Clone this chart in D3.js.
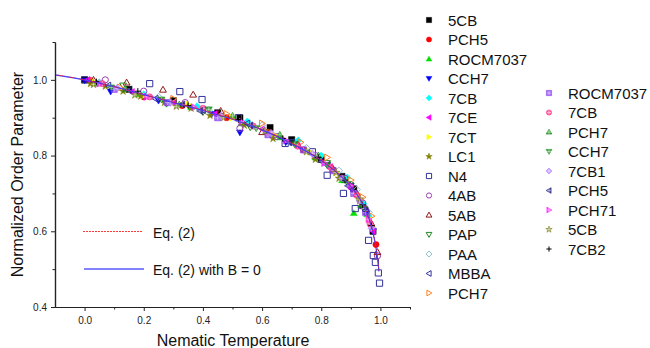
<!DOCTYPE html>
<html>
<head>
<meta charset="utf-8">
<script src="https://cdn.jsdelivr.net/npm/d3@7/dist/d3.min.js"></script>
<style>
  body { margin: 0; background: #fff; }
  text { font-family: "Liberation Sans", Arial, sans-serif; }
</style>
</head>
<body>
<svg id="chart" width="650" height="348"></svg>
<script>
// ---- data ----
const xMajorTicks = [0.0, 0.2, 0.4, 0.6, 0.8, 1.0];
const xMinorTicks = [0.1, 0.3, 0.5, 0.7, 0.9, 1.1];
const yMajorTicks = [0.4, 0.6, 0.8, 1.0];
const yMinorTicks = [0.5, 0.7, 0.9, 1.1];

// fit curves
const curveT   = [-0.1, 0.0, 0.1, 0.2, 0.3, 0.4, 0.5, 0.6, 0.7, 0.8, 0.85, 0.9, 0.93, 0.95, 0.97, 0.98, 0.99, 0.995];
const curveEq2 = [1.014, 1.0, 0.982, 0.961, 0.941, 0.920, 0.897, 0.869, 0.833, 0.788, 0.758, 0.719, 0.687, 0.657, 0.613, 0.580, 0.532, 0.497];
const curveB0  = [1.013, 1.0, 0.982, 0.961, 0.940, 0.919, 0.896, 0.868, 0.832, 0.787, 0.757, 0.718, 0.686, 0.656, 0.612, 0.578, 0.530, 0.494];

// column 1 series
const d5CB     = [[0.0,1.0],[0.15,0.975],[0.30,0.945],[0.45,0.913],[0.525,0.9],[0.627,0.874],[0.70,0.842],[0.80,0.79],[0.87,0.745],[0.91,0.712],[0.94,0.668],[0.975,0.60]];
const dPCH5    = [[0.02,0.998],[0.2,0.955],[0.33,0.932],[0.48,0.9],[0.62,0.862],[0.74,0.815],[0.84,0.762],[0.9,0.718],[0.95,0.655],[0.985,0.565]];
const dROCM    = [[0.04,0.99],[0.18,0.962],[0.36,0.928],[0.53,0.885],[0.66,0.848],[0.78,0.795],[0.87,0.735],[0.91,0.648],[0.955,0.645]];
const dCCH7    = [[0.0,0.998],[0.088,0.969],[0.25,0.945],[0.43,0.91],[0.525,0.861],[0.68,0.835],[0.82,0.775],[0.9,0.715],[0.95,0.65],[0.975,0.6]];
const d7CB     = [[0.05,0.992],[0.2,0.962],[0.38,0.93],[0.55,0.89],[0.722,0.84],[0.8,0.8],[0.888,0.742],[0.942,0.673],[0.96,0.64]];
const d7CE     = [[0.01,1.0],[0.16,0.968],[0.3,0.94],[0.44,0.91],[0.6,0.87],[0.72,0.825],[0.83,0.77],[0.9,0.715],[0.945,0.66],[0.975,0.6]];
const d7CT     = [[0.03,0.995],[0.2,0.958],[0.35,0.935],[0.5,0.9],[0.64,0.855],[0.76,0.81],[0.85,0.755],[0.92,0.7],[0.96,0.635]];
const dLC1     = [[0.02,0.99],[0.07,0.983],[0.13,0.97],[0.19,0.957],[0.27,0.94],[0.36,0.925],[0.424,0.906],[0.54,0.88],[0.637,0.845],[0.78,0.79],[0.86,0.74],[0.93,0.68]];
const dN4      = [[0.0,1.0],[0.22,0.99],[0.322,0.969],[0.397,0.948],[0.52,0.9],[0.678,0.832],[0.77,0.81],[0.82,0.748],[0.875,0.70],[0.915,0.66],[0.96,0.576],[0.976,0.536],[0.983,0.518],[0.993,0.49],[0.997,0.463]];
const d4AB     = [[0.07,1.0],[0.2,0.97],[0.34,0.94],[0.525,0.872],[0.65,0.85],[0.78,0.8],[0.88,0.74],[0.94,0.675],[0.99,0.535]];
const d5AB     = [[0.03,1.0],[0.142,0.993],[0.265,0.974],[0.367,0.961],[0.46,0.918],[0.6,0.862],[0.72,0.83],[0.84,0.765],[0.92,0.7],[0.97,0.62],[0.99,0.545]];
const dPAP     = [[0.13,0.985],[0.277,0.937],[0.4,0.915],[0.56,0.875],[0.7,0.835],[0.82,0.78],[0.9,0.72]];
const dPAA     = [[0.05,0.993],[0.25,0.955],[0.42,0.92],[0.6,0.88],[0.75,0.82],[0.86,0.76],[0.92,0.71],[0.96,0.65]];
const dMBBA    = [[0.08,0.985],[0.24,0.95],[0.4,0.92],[0.55,0.885],[0.7,0.835],[0.82,0.775],[0.9,0.72],[0.955,0.645]];
const dPCH7    = [[0.12,0.98],[0.3,0.95],[0.48,0.91],[0.6,0.885],[0.73,0.835],[0.82,0.795],[0.9,0.735],[0.94,0.69],[0.97,0.64]];
// column 2 series
const dROCMb   = [[0.1,0.975],[0.28,0.94],[0.45,0.9],[0.62,0.855],[0.74,0.815],[0.84,0.76],[0.91,0.7],[0.95,0.65]];
const d7CBb    = [[0.06,0.99],[0.22,0.955],[0.4,0.925],[0.57,0.878],[0.72,0.825],[0.83,0.77],[0.92,0.695],[0.965,0.62]];
const dPCH7b   = [[0.14,0.975],[0.32,0.935],[0.5,0.905],[0.66,0.855],[0.79,0.8],[0.88,0.735],[0.935,0.67]];
const dCCH7b   = [[0.09,0.98],[0.26,0.948],[0.42,0.922],[0.58,0.872],[0.71,0.83],[0.82,0.775],[0.89,0.725],[0.945,0.66]];
const d7CB1    = [[0.11,0.978],[0.29,0.94],[0.46,0.905],[0.63,0.86],[0.77,0.805],[0.87,0.74],[0.93,0.68],[0.97,0.608]];
const dPCH5b   = [[0.15,0.972],[0.33,0.935],[0.39,0.918],[0.56,0.88],[0.69,0.835],[0.8,0.785],[0.89,0.72],[0.95,0.655]];
const dPCH71   = [[0.05,0.99],[0.21,0.955],[0.37,0.928],[0.53,0.89],[0.68,0.84],[0.81,0.78],[0.9,0.72],[0.96,0.632]];
const d5CBb    = [[0.03,0.988],[0.17,0.96],[0.31,0.93],[0.47,0.9],[0.61,0.865],[0.75,0.81],[0.85,0.755],[0.93,0.685]];
const d7CB2    = [[0.04,0.995],[0.18,0.97],[0.35,0.932],[0.52,0.895],[0.67,0.845],[0.79,0.795],[0.88,0.735],[0.94,0.67],[0.97,0.615]];

const legend1Names = ['5CB','PCH5','ROCM7037','CCH7','7CB','7CE','7CT','LC1','N4','4AB','5AB','PAP','PAA','MBBA','PCH7'];
const legend2Names = ['ROCM7037','7CB','PCH7','CCH7','7CB1','PCH5','PCH71','5CB','7CB2'];

// ---- styles (shape, colour, fill mode) ----
const col1 = [
  {data: d5CB,  shape: 'square', color: '#000000', mode: 'solid'},
  {data: dPCH5, shape: 'circle', color: '#ff0000', mode: 'solid'},
  {data: dROCM, shape: 'up',     color: '#00e000', mode: 'solid'},
  {data: dCCH7, shape: 'down',   color: '#0000ff', mode: 'solid'},
  {data: d7CB,  shape: 'diamond',color: '#00ffff', mode: 'solid'},
  {data: d7CE,  shape: 'left',   color: '#ff00ff', mode: 'solid'},
  {data: d7CT,  shape: 'right',  color: '#ffff00', mode: 'solid'},
  {data: dLC1,  shape: 'star',   color: '#808000', mode: 'solid'},
  {data: dN4,   shape: 'square', color: '#33339a', mode: 'open'},
  {data: d4AB,  shape: 'circle', color: '#9a40b0', mode: 'open'},
  {data: d5AB,  shape: 'up',     color: '#901818', mode: 'open'},
  {data: dPAP,  shape: 'down',   color: '#208a20', mode: 'open'},
  {data: dPAA,  shape: 'diamond',color: '#90c0d0', mode: 'open'},
  {data: dMBBA, shape: 'left',   color: '#3030a0', mode: 'open'},
  {data: dPCH7, shape: 'right',  color: '#ff8020', mode: 'open'}
];
const col2 = [
  {data: dROCMb, shape: 'square', color: '#8a40f0', mode: 'cross'},
  {data: d7CBb,  shape: 'circle', color: '#ff3088', mode: 'cross'},
  {data: dPCH7b, shape: 'up',     color: '#108a10', mode: 'cross'},
  {data: dCCH7b, shape: 'down',   color: '#108a10', mode: 'cross'},
  {data: d7CB1,  shape: 'diamond',color: '#b080ff', mode: 'cross'},
  {data: dPCH5b, shape: 'left',   color: '#1a1a80', mode: 'cross'},
  {data: dPCH71, shape: 'right',  color: '#ff10ff', mode: 'cross'},
  {data: d5CBb,  shape: 'star',   color: '#808020', mode: 'cross'},
  {data: d7CB2,  shape: 'plus',   color: '#000000', mode: 'solid'}
];
col1.forEach((s, i) => s.name = legend1Names[i]);
col2.forEach((s, i) => s.name = legend2Names[i]);

const svg = d3.select('#chart');
const x = d3.scaleLinear().domain([-0.1, 1.1]).range([55, 410]);
const y = d3.scaleLinear().domain([0.4, 1.1]).range([307, 42]);

// marker paths, r = half size
function shapePath(shape, r) {
  switch (shape) {
    case 'square': return `M${-r},${-r}H${r}V${r}H${-r}Z`;
    case 'circle': return d3.symbol().type(d3.symbolCircle).size(Math.PI * r * r)();
    case 'diamond': return `M0,${-r * 1.15}L${r * 1.15},0L0,${r * 1.15}L${-r * 1.15},0Z`;
    case 'up': return `M0,${-r * 1.1}L${r * 1.1},${r * 0.8}L${-r * 1.1},${r * 0.8}Z`;
    case 'down': return `M0,${r * 1.1}L${r * 1.1},${-r * 0.8}L${-r * 1.1},${-r * 0.8}Z`;
    case 'left': return `M${-r * 1.1},0L${r * 0.8},${-r * 1.1}L${r * 0.8},${r * 1.1}Z`;
    case 'right': return `M${r * 1.1},0L${-r * 0.8},${-r * 1.1}L${-r * 0.8},${r * 1.1}Z`;
    case 'star': return d3.symbol().type(d3.symbolStar).size(r * r * 1.9)();
    case 'plus': return `M${-r},0H${r}M0,${-r}V${r}`;
  }
}

function drawMarker(g, s, px, py, r) {
  const m = g.append('g').attr('transform', `translate(${px},${py})`);
  const p = m.append('path').attr('d', shapePath(s.shape, r));
  if (s.shape === 'plus') {
    p.attr('fill', 'none').attr('stroke', s.color).attr('stroke-width', 1);
  } else if (s.mode === 'solid') {
    p.attr('fill', s.color).attr('stroke', s.color).attr('stroke-width', 0.5);
  } else if (s.mode === 'open') {
    p.attr('fill', 'none').attr('stroke', s.color).attr('stroke-width', 1);
  } else {
    p.attr('fill', s.color).attr('fill-opacity', 0.75).attr('stroke', s.color).attr('stroke-width', 0.6);
    m.append('path').attr('d', `M${-r * 0.8},0H${r * 0.8}M0,${-r * 0.8}V${r * 0.8}`)
      .attr('stroke', '#fff').attr('stroke-opacity', 0.55).attr('stroke-width', 0.8);
  }
}

// data points
const allSeries = col1.concat(col2);
const pts = svg.append('g');
allSeries.forEach(s => {
  s.data.forEach(d => drawMarker(pts, s, x(d[0]), y(d[1]), 3.1));
});

// fit lines
const line = d3.line().x(d => x(d[0])).y(d => y(d[1])).curve(d3.curveMonotoneX);
svg.append('path')
  .attr('d', line(curveT.map((t, i) => [t, curveB0[i]])))
  .attr('fill', 'none').attr('stroke', '#3a3aff').attr('stroke-width', 1.2);
svg.append('path')
  .attr('d', line(curveT.map((t, i) => [t, curveEq2[i]])))
  .attr('fill', 'none').attr('stroke', '#ff2020').attr('stroke-width', 1)
  .attr('stroke-dasharray', '1,1.5');

// axes
function styleAxis(g) {
  g.selectAll('line').attr('stroke', '#222').attr('stroke-width', 1);
  g.selectAll('path.domain').attr('stroke', '#222').attr('stroke-width', 1.2);
  g.selectAll('text').attr('font-size', 10).attr('fill', '#222')
    .attr('font-family', '"Liberation Sans", Arial, sans-serif');
}
svg.append('g').attr('transform', 'translate(0,307)')
  .call(d3.axisBottom(x).tickValues(xMajorTicks).tickSize(4).tickSizeOuter(0).tickPadding(6).tickFormat(d3.format('.1f')))
  .call(styleAxis);
svg.append('g').attr('transform', 'translate(0,307)')
  .call(d3.axisBottom(x).tickValues(xMinorTicks).tickSize(2.5).tickSizeOuter(0).tickFormat(''))
  .call(styleAxis);
svg.append('g').attr('transform', 'translate(55,0)')
  .call(d3.axisLeft(y).tickValues(yMajorTicks).tickSize(4).tickSizeOuter(0).tickPadding(4).tickFormat(d3.format('.1f')))
  .call(styleAxis);
svg.append('g').attr('transform', 'translate(55,0)')
  .call(d3.axisLeft(y).tickValues(yMinorTicks).tickSize(2.5).tickSizeOuter(0).tickFormat(''))
  .call(styleAxis);

// axis titles
svg.append('text').attr('x', 233).attr('y', 345.5).attr('text-anchor', 'middle')
  .attr('font-size', 16).attr('fill', '#111').text('Nematic Temperature');
svg.append('text').attr('transform', 'translate(23,174.5) rotate(-90)').attr('text-anchor', 'middle')
  .attr('font-size', 16).attr('fill', '#111').text('Normalized Order Parameter');

// inner legend for fit lines
svg.append('path').attr('d', 'M83,231.5H142')
  .attr('fill', 'none').attr('stroke', '#ff3a3a').attr('stroke-width', 1.2).attr('stroke-dasharray', '2,1');
svg.append('text').attr('x', 153).attr('y', 237.5).attr('font-size', 14).attr('fill', '#111').text('Eq. (2)');
svg.append('path').attr('d', 'M84,269H144')
  .attr('fill', 'none').attr('stroke', '#5a5aff').attr('stroke-width', 1.3);
svg.append('text').attr('x', 153).attr('y', 274.5).attr('font-size', 14).attr('fill', '#111').text('Eq. (2) with B = 0');

// series legends
function drawLegend(list, mx, tx, y0, step) {
  const g = svg.append('g');
  list.forEach((s, i) => {
    const yy = y0 + i * step;
    drawMarker(g, s, mx, yy, 2.6);
    g.append('text').attr('x', tx).attr('y', yy + 5.5).attr('font-size', 15)
      .attr('fill', '#111').text(s.name);
  });
}
drawLegend(col1, 429, 448, 20, 19.5);
drawLegend(col2, 549, 568, 93, 19.5);
</script>
</body>
</html>
